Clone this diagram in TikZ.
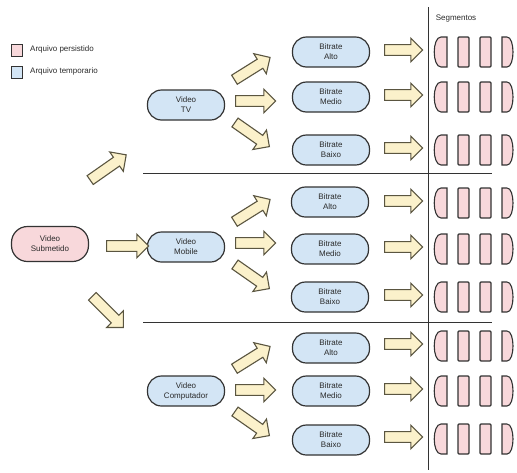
\documentclass[tikz,border=0pt]{standalone}
\usepackage{fontspec}
\setmainfont{Liberation Sans}
\usetikzlibrary{shapes.arrows}
\definecolor{bluefill}{HTML}{D3E5F5}
\definecolor{pinkfill}{HTML}{F8D8DB}
\definecolor{edge}{HTML}{333333}
\definecolor{arrfill}{HTML}{FBF1CB}
\definecolor{arredge}{HTML}{5A5540}
\definecolor{txt}{HTML}{2A2A2A}
\tikzset{
  capsule/.style={draw=edge, line width=1.2pt, rounded corners=14pt, minimum width=77pt, minimum height=30pt, align=center, inner sep=1pt, font=\fontsize{8}{10}\selectfont, text=txt},
  tmp/.style={capsule, fill=bluefill},
  pers/.style={capsule, fill=pinkfill},
  blockarrow/.style={single arrow, draw=arredge, fill=arrfill, line width=1.1pt, inner sep=4.8pt, single arrow head extend=6.5pt, single arrow head indent=0pt, minimum height=#1, text width=0pt, anchor=center},
  blockarrow/.default=40pt,
  segbox/.style={draw=edge, fill=pinkfill, line width=1.1pt},
  sep/.style={draw=edge, line width=1pt},
  lab/.style={font=\fontsize{8}{9}\selectfont, text=txt, anchor=west, inner sep=0pt}
}
\begin{document}
\begin{tikzpicture}[x=1pt,y=-1pt]
\useasboundingbox (0,0) rectangle (517,472);
% legend
\node[draw=edge, fill=pinkfill, line width=0.8pt, minimum width=11pt, minimum height=12pt, inner sep=0pt] (lp) at (17,50) {};
\node[draw=edge, fill=bluefill, line width=0.8pt, minimum width=11pt, minimum height=12pt, inner sep=0pt] (lt) at (17,72) {};
\node[lab] (lpt) at (30,49) {Arquivo persistido};
\node[lab] (ltt) at (30,71) {Arquivo temporario};
% separators
\coordinate (v1) at (428,7);
\coordinate (v2) at (428,470);
\draw[sep] (v1) -- (v2);
\coordinate (h1a) at (143,173);
\coordinate (h1b) at (492,173);
\coordinate (h2a) at (143,322);
\coordinate (h2b) at (492,322);
\draw[sep] (h1a) -- (h1b);
\draw[sep] (h2a) -- (h2b);
\node[font=\fontsize{8}{9}\selectfont, text=txt] (segt) at (456,19) {Segmentos};
% main nodes
\node[pers, minimum height=35pt, rounded corners=16pt] (sub) at (50,244) {Video\\Submetido};
\node[tmp] (tv) at (186,105) {Video\\TV};
\node[tmp] (mob) at (186,247) {Video\\Mobile};
\node[tmp] (comp) at (186,391) {Video\\Computador};
\node[tmp] (a1) at (331,52) {Bitrate\\Alto};
\node[tmp] (m1) at (331,97) {Bitrate\\Medio};
\node[tmp] (b1) at (331,150) {Bitrate\\Baixo};
\node[tmp] (a2) at (330,202) {Bitrate\\Alto};
\node[tmp] (m2) at (330,249) {Bitrate\\Medio};
\node[tmp] (b2) at (330,297) {Bitrate\\Baixo};
\node[tmp] (a3) at (331,348) {Bitrate\\Alto};
\node[tmp] (m3) at (331,391) {Bitrate\\Medio};
\node[tmp] (b3) at (331,440) {Bitrate\\Baixo};
% left arrows
\node[blockarrow=44pt, rotate=35] (la1) at (106,169) {};
\node[blockarrow=42pt] (la2) at (125,246) {};
\node[blockarrow=44pt, rotate=-45] (la3) at (106,310) {};
% section arrows
\foreach \n/\y in {t/0,m/142,c/289}{
  \node[blockarrow=42pt, rotate=32] (u\n) at (250,70+\y) {};
  \node[blockarrow=40pt] (r\n) at (253,101+\y) {};
  \node[blockarrow=42pt, rotate=-35] (d\n) at (250,133+\y) {};
}
% segment arrows and segments
\foreach \i/\y in {1/52,2/97,3/150,4/203,5/249,6/297,7/346,8/391,9/439}{
  \node[blockarrow=38pt] (sa\i) at (401,\y-2) {};
  \draw[segbox] (447,\y-15) -- (441,\y-15) .. controls (432,\y-15) and (432,\y+15) .. (441,\y+15) -- (447,\y+15) -- cycle;
  \draw[segbox, rounded corners=1pt] (458,\y-15) rectangle (469,\y+15);
  \draw[segbox, rounded corners=1pt] (480,\y-15) rectangle (491,\y+15);
  \draw[segbox] (502,\y-15) -- (507,\y-15) .. controls (515,\y-15) and (515,\y+15) .. (507,\y+15) -- (502,\y+15) -- cycle;
}
\end{tikzpicture}
\end{document}
